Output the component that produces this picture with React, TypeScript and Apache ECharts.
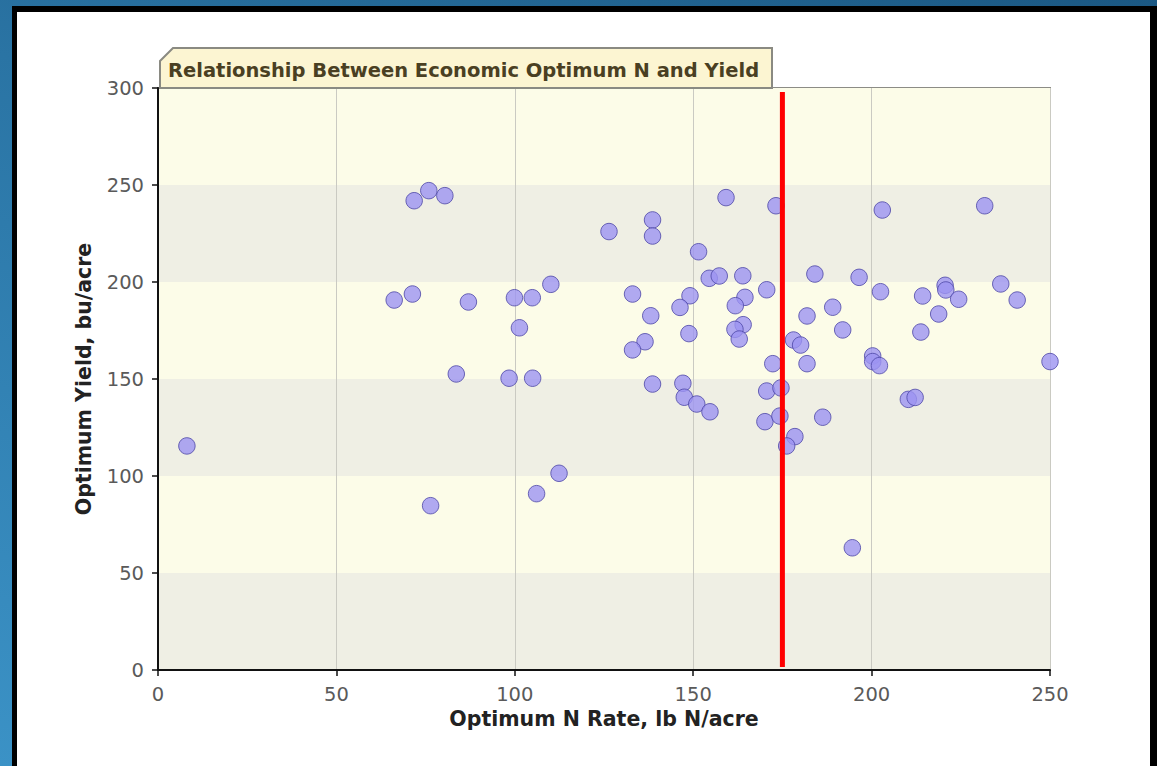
import React, { useEffect, useRef } from "react";
import * as echarts from "echarts";

const chartTitle = "Relationship Between Economic Optimum N and Yield";
const xAxisName = "Optimum N Rate, lb N/acre";
const yAxisName = "Optimum Yield, bu/acre";

const xTicks = { min: 0, max: 250, interval: 50 };
const yTicks = { min: 0, max: 300, interval: 50 };

// Optimum N rate (lb N/acre)
const nRate = [
  8.1, 66.2, 71.3, 71.8, 75.9, 80.4, 87.0, 83.6, 98.4, 105.0,
  99.9, 104.9, 110.1, 101.3, 76.4, 106.1, 112.4, 126.4, 138.6, 138.6,
  159.2, 173.2, 203.0, 231.7, 151.5, 133.0, 149.1, 146.3, 154.5, 157.3,
  163.9, 164.5, 161.8, 170.6, 138.1, 148.8, 164.0, 161.7, 162.9, 136.5,
  133.0, 138.6, 147.1, 147.5, 151.0, 154.7, 172.3, 170.6, 174.6, 170.1,
  174.3, 178.5, 176.2, 178.1, 180.1, 181.9, 181.9, 184.1, 189.1, 191.9,
  196.5, 202.5, 186.3, 200.3, 200.3, 202.2, 214.3, 220.6, 220.8, 224.4,
  218.8, 213.8, 236.2, 240.8, 250.0, 210.3, 212.2, 194.6,
];

// Optimum yield (bu/acre)
const yieldVals = [
  115.5, 190.7, 193.8, 241.9, 247.1, 244.5, 189.7, 152.6, 150.4, 150.4,
  191.9, 191.9, 198.8, 176.4, 84.7, 90.9, 101.4, 226.0, 232.0, 223.7,
  243.5, 239.3, 237.1, 239.3, 215.6, 193.8, 192.9, 186.9, 201.9, 203.1,
  203.2, 192.1, 187.8, 196.0, 182.6, 173.4, 178.0, 175.6, 170.6, 169.2,
  165.0, 147.4, 147.8, 140.6, 137.1, 133.1, 157.9, 143.8, 145.4, 128.0,
  130.9, 120.3, 115.5, 170.1, 167.5, 182.5, 157.9, 204.1, 187.0, 175.3,
  202.4, 195.0, 130.3, 161.9, 159.0, 156.9, 192.8, 198.3, 195.9, 191.1,
  183.5, 174.2, 199.0, 190.7, 159.0, 139.5, 140.5, 63.0,
];

// Red reference line
const refLineX = [175, 175];
const refLineY = [1.5, 298];

export default function App() {
  const ref = useRef<HTMLDivElement>(null);

  useEffect(() => {
    if (!ref.current) return;
    const chart = echarts.init(ref.current, undefined, { renderer: "svg" });
    const points = nRate.map((x, i) => [x, yieldVals[i]]);
    const linePts = refLineX.map((x, i) => [x, refLineY[i]]);
    const tickFont = { fontFamily: "DejaVu Sans", fontSize: 19.5, color: "#5a5a5a" };
    const nameFont = { fontFamily: "DejaVu Sans", fontWeight: "bold" as const, fontSize: 20.5, color: "#222222" };

    chart.setOption({
      animation: false,
      backgroundColor: "transparent",
      grid: {
        left: 158,
        right: 107,
        top: 88,
        bottom: 96,
        show: true,
        borderColor: "#8c8c86",
        borderWidth: 2,
        backgroundColor: "transparent",
      },
      xAxis: {
        type: "value",
        min: xTicks.min,
        max: xTicks.max,
        interval: xTicks.interval,
        name: xAxisName,
        nameLocation: "middle",
        nameGap: 37,
        nameTextStyle: nameFont,
        axisLine: { show: true, onZero: false, lineStyle: { color: "#111", width: 2 } },
        axisTick: { show: true, inside: false, length: 6, lineStyle: { color: "#111", width: 1.5 } },
        axisLabel: { ...tickFont, margin: 14 },
        splitLine: { show: true, lineStyle: { color: "#cacac2", width: 1 } },
      },
      yAxis: {
        type: "value",
        min: yTicks.min,
        max: yTicks.max,
        interval: yTicks.interval,
        name: yAxisName,
        nameLocation: "middle",
        nameGap: 64,
        nameRotate: 90,
        nameTextStyle: nameFont,
        axisLine: { show: true, onZero: false, lineStyle: { color: "#111", width: 2 } },
        axisTick: { show: true, inside: false, length: 6, lineStyle: { color: "#111", width: 1.5 } },
        axisLabel: { ...tickFont, margin: 14 },
        splitLine: { show: false },
        splitArea: { show: true, areaStyle: { color: ["#efefe4", "#fcfce8"] } },
      },
      graphic: [
        {
          type: "polygon",
          z: 50,
          shape: { points: [[160, 61], [173, 48], [772, 48], [772, 88], [160, 88]] },
          style: { fill: "#fcf5d2", stroke: "#8a8a82", lineWidth: 2 },
        },
        {
          type: "text",
          z: 51,
          x: 168,
          y: 70,
          style: {
            text: chartTitle,
            fontFamily: "DejaVu Sans",
            fontWeight: "bold",
            fontSize: 19.5,
            fill: "#4a3f22",
            verticalAlign: "middle",
            align: "left",
          },
        },
      ],
      series: [
        {
          type: "scatter",
          data: points,
          symbol: "circle",
          symbolSize: 16.5,
          z: 3,
          itemStyle: {
            color: "#9c94f1",
            borderColor: "#4c46a6",
            borderWidth: 1,
          },
        },
        {
          type: "line",
          data: linePts,
          symbol: "none",
          z: 5,
          lineStyle: { color: "#ff0000", width: 5 },
        },
      ],
    });
    return () => chart.dispose();
  }, []);

  return (
    <div style={{ position: "absolute", left: 0, top: 0, width: 1157, height: 766, overflow: "hidden" }}>
      <div
        style={{
          position: "absolute",
          left: 0,
          top: 0,
          width: 1157,
          height: 766,
          background: "linear-gradient(200deg, #1b5883 0%, #2a74a4 40%, #3b92c6 100%)",
        }}
      />
      <div style={{ position: "absolute", left: 12, top: 6, width: 1145, height: 760, background: "#000" }} />
      <div style={{ position: "absolute", left: 17, top: 12, width: 1133, height: 754, background: "#ffffff" }} />
      <div ref={ref} style={{ position: "absolute", left: 0, top: 0, width: 1157, height: 766 }} />
    </div>
  );
}
